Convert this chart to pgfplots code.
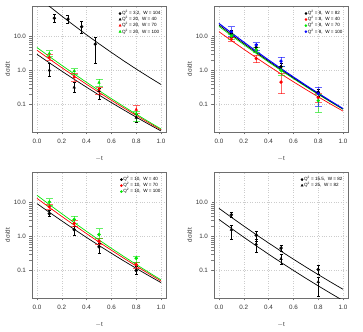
\documentclass[border=0pt]{standalone}
\usepackage{pgfplots}
\pgfplotsset{compat=1.18}
\usepackage{fontspec}
\setmainfont{Liberation Sans}
\definecolor{rred}{RGB}{255,0,0}
\definecolor{rgreen}{RGB}{0,230,0}
\definecolor{rblue}{RGB}{0,0,255}
\definecolor{framegray}{RGB}{110,110,110}
\pgfplotsset{
  every axis/.append style={
    scale only axis, width=134bp, height=126bp,
    xmin=-0.04, xmax=1.04, ymin=0.0155, ymax=80,
    xtick={0,0.2,0.4,0.6,0.8,1.0},
    xticklabels={0.0,0.2,0.4,0.6,0.8,1.0},
    ytick={0.1,1,10}, yticklabels={0.1,1.0,10.0},
    tick align=outside, tick pos=left, major tick length=2.5bp,
    axis line style={framegray, line width=0.6bp},
    major tick style={framegray, line width=0.5bp},
    grid=major, major grid style={gray!40, dotted, line width=0.4bp},
    tick label style={font=\fontsize{6.3}{6.3}\selectfont, text=black!80},
    xticklabel style={yshift=-1bp},
    xlabel style={font=\fontsize{6.3}{6.3}\selectfont, text=black!80, yshift=-6bp},
    ylabel style={font=\fontsize{6.3}{6.3}\selectfont, text=black!80, yshift=-3bp},
    xlabel={$-$t}, ylabel={dσ/dt},
    legend style={at={(0.97,0.975)}, anchor=north east, draw=none, fill=none,
      font=\fontsize{4.6}{4.8}\selectfont, row sep=-1.3bp, inner sep=0.5bp,
      nodes={inner sep=0.8bp}},
    legend cell align=left,
  },
}
\pgfplotsset{
  mycurve/.style={line width=0.7bp, no marks},
  mypt/.style={only marks, mark size=1.5bp,
    error bars/y dir=both, error bars/y explicit,
    error bars/error mark=-,
    error bars/error bar style={line width=0.5bp},
    error bars/error mark options={rotate=90, mark size=1.5bp, line width=0.5bp}},
  mycpt/.style={only marks, mark size=1.5bp,
    error bars/y dir=both, error bars/y explicit,
    error bars/error mark=-,
    error bars/error bar style={line width=0.6bp, opacity=0.6},
    error bars/error mark options={rotate=90, mark size=3.5bp, line width=0.6bp, opacity=0.6}},
}
\begin{document}
\begin{tikzpicture}
\useasboundingbox (0,0) rectangle (363bp,332bp);
% ---------------- panel 1 ----------------
\begin{axis}[ymode=log, anchor=south west, at={(32bp,200bp)}]
\addlegendimage{only marks, mark=*, mark size=1.1bp, black}
\addlegendentry{Q\textsuperscript{2} = 3.2,\ \ W = 104}
\addlegendimage{only marks, mark=triangle*, mark size=1.3bp, black}
\addlegendentry{Q\textsuperscript{2} = 20,\ \ W = 40}
\addlegendimage{only marks, mark=triangle*, mark size=1.3bp, rred}
\addlegendentry{Q\textsuperscript{2} = 20,\ \ W = 70}
\addlegendimage{only marks, mark=triangle*, mark size=1.3bp, rgreen}
\addlegendentry{Q\textsuperscript{2} = 20,\ \ W = 100}
\addplot[mycurve, black, forget plot] table {
t v
0.0 155
0.1 78.3
0.2 40.4
0.3 21.2
0.4 11.3
0.5 6.17
0.6 3.42
0.7 1.93
0.8 1.11
0.9 0.652
1.0 0.389
};
\addplot[mycurve, black, forget plot] table {
t v
0.0 3.02
0.1 1.693
0.2 0.962
0.3 0.5535
0.4 0.3227
0.5 0.1905
0.6 0.1140
0.7 0.0691
0.8 0.0424
0.9 0.02635
1.0 0.0166
};
\addplot[mycurve, rred, forget plot] table {
t v
0.0 3.98
0.1 2.190
0.2 1.219
0.3 0.6884
0.4 0.3934
0.5 0.2278
0.6 0.1336
0.7 0.0794
0.8 0.0478
0.9 0.0291
1.0 0.0180
};
\addplot[mycurve, rgreen, forget plot] table {
t v
0.0 4.79
0.1 2.599
0.2 1.429
0.3 0.7964
0.4 0.4495
0.5 0.2570
0.6 0.1489
0.7 0.0873
0.8 0.0519
0.9 0.0313
1.0 0.0191
};
\addplot[mypt, black, mark=*, forget plot] table[x=t,y=v,y error plus expr=\thisrow{hi}-\thisrow{v},y error minus expr=\thisrow{v}-\thisrow{lo}] {
t v lo hi
0.14 35 25.8 46
0.25 33 24.7 43.6
0.36 19.7 12.6 27.6
0.47 6.0 1.65 9.3
};
\addplot[mypt, black, mark=triangle*, forget plot] table[x=t,y=v,y error plus expr=\thisrow{hi}-\thisrow{v},y error minus expr=\thisrow{v}-\thisrow{lo}] {
t v lo hi
0.1 1.02 0.68 1.6
0.3 0.32 0.235 0.44
0.5 0.25 0.14 0.30
0.8 0.041 0.030 0.050
};
\addplot[mycpt, rred, mark=triangle*, forget plot] table[x=t,y=v,y error plus expr=\thisrow{hi}-\thisrow{v},y error minus expr=\thisrow{v}-\thisrow{lo}] {
t v lo hi
0.1 2.45 2.0 3.0
0.3 0.65 0.5 0.85
0.5 0.28 0.2 0.33
0.8 0.071 0.055 0.092
};
\addplot[mycpt, rgreen, mark=triangle*, forget plot] table[x=t,y=v,y error plus expr=\thisrow{hi}-\thisrow{v},y error minus expr=\thisrow{v}-\thisrow{lo}] {
t v lo hi
0.1 3.2 2.6 3.9
0.3 0.97 0.8 1.15
0.5 0.44 0.35 0.55
0.8 0.054 0.033 0.065
};
\end{axis}
% ---------------- panel 2 ----------------
\begin{axis}[ymode=log, anchor=south west, at={(214bp,200bp)}]
\addlegendimage{only marks, mark=*, mark size=1.1bp, black}
\addlegendentry{Q\textsuperscript{2} = 8,\ \ W = 82}
\addlegendimage{only marks, mark=*, mark size=1.1bp, rred}
\addlegendentry{Q\textsuperscript{2} = 8,\ \ W = 40}
\addlegendimage{only marks, mark=*, mark size=1.1bp, rgreen}
\addlegendentry{Q\textsuperscript{2} = 8,\ \ W = 70}
\addlegendimage{only marks, mark=*, mark size=1.1bp, rblue}
\addlegendentry{Q\textsuperscript{2} = 8,\ \ W = 100}
\addplot[mycurve, rred, forget plot] table {
t v
0.0 14.0
0.1 7.674
0.2 4.266
0.3 2.404
0.4 1.374
0.5 0.7962
0.6 0.4677
0.7 0.2786
0.8 0.1683
0.9 0.1030
1.0 0.0640
};
\addplot[mycurve, rgreen, forget plot] table {
t v
0.0 20.0
0.1 10.71
0.2 5.81
0.3 3.198
0.4 1.784
0.5 1.009
0.6 0.5787
0.7 0.3366
0.8 0.1985
0.9 0.1187
1.0 0.0719
};
\addplot[mycurve, black, forget plot] table {
t v
0.0 22.0
0.1 11.69
0.2 6.30
0.3 3.444
0.4 1.909
0.5 1.073
0.6 0.6110
0.7 0.3531
0.8 0.2068
0.9 0.1229
1.0 0.0740
};
\addplot[mycurve, rblue, line width=1bp, forget plot] table {
t v
0.0 24.5
0.1 12.94
0.2 6.92
0.3 3.75
0.4 2.06
0.5 1.148
0.6 0.6486
0.7 0.3715
0.8 0.2158
0.9 0.1271
1.0 0.0759
};
\addplot[mypt, black, mark=*, forget plot] table[x=t,y=v,y error plus expr=\thisrow{hi}-\thisrow{v},y error minus expr=\thisrow{v}-\thisrow{lo}] {
t v lo hi
0.1 12.5 9.5 15
0.3 4.8 4.0 5.8
0.5 1.3 1.0 1.6
0.8 0.23 0.17 0.28
};
\addplot[mycpt, rred, mark=*, forget plot] table[x=t,y=v,y error plus expr=\thisrow{hi}-\thisrow{v},y error minus expr=\thisrow{v}-\thisrow{lo}] {
t v lo hi
0.1 8.4 7.2 9.3
0.3 2.25 1.7 2.9
0.5 0.46 0.21 0.85
0.8 0.16 0.12 0.22
};
\addplot[mycpt, rgreen, mark=*, forget plot] table[x=t,y=v,y error plus expr=\thisrow{hi}-\thisrow{v},y error minus expr=\thisrow{v}-\thisrow{lo}] {
t v lo hi
0.1 10.5 8.5 12
0.3 4.06 3.4 4.8
0.5 1.02 0.72 1.3
0.8 0.13 0.06 0.2
};
\addplot[mycpt, rblue, mark=*, forget plot] table[x=t,y=v,y error plus expr=\thisrow{hi}-\thisrow{v},y error minus expr=\thisrow{v}-\thisrow{lo}] {
t v lo hi
0.1 14.0 10.0 19.7
0.3 5.7 4.06 6.7
0.5 1.9 1.37 2.45
0.8 0.21 0.089 0.32
};
\end{axis}
% ---------------- panel 3 ----------------
\begin{axis}[ymode=log, anchor=south west, at={(32bp,34bp)}]
\addlegendimage{only marks, mark=*, mark size=1.1bp, black}
\addlegendentry{Q\textsuperscript{2} = 10,\ \ W = 40}
\addlegendimage{only marks, mark=*, mark size=1.1bp, rred}
\addlegendentry{Q\textsuperscript{2} = 10,\ \ W = 70}
\addlegendimage{only marks, mark=*, mark size=1.1bp, rgreen}
\addlegendentry{Q\textsuperscript{2} = 10,\ \ W = 100}
\addplot[mycurve, black, forget plot] table {
t v
0.0 9.40
0.1 5.186
0.2 2.899
0.3 1.641
0.4 0.9415
0.5 0.5470
0.6 0.3220
0.7 0.1919
0.8 0.1159
0.9 0.0709
1.0 0.0440
};
\addplot[mycurve, rred, forget plot] table {
t v
0.0 13.4
0.1 7.213
0.2 3.934
0.3 2.174
0.4 1.216
0.5 0.6895
0.6 0.3960
0.7 0.2303
0.8 0.1357
0.9 0.0810
1.0 0.0490
};
\addplot[mycurve, rgreen, forget plot] table {
t v
0.0 16.5
0.1 8.770
0.2 4.722
0.3 2.575
0.4 1.422
0.5 0.7960
0.6 0.4512
0.7 0.2592
0.8 0.1507
0.9 0.0888
1.0 0.0530
};
\addplot[mypt, black, mark=*, forget plot] table[x=t,y=v,y error plus expr=\thisrow{hi}-\thisrow{v},y error minus expr=\thisrow{v}-\thisrow{lo}] {
t v lo hi
0.1 4.75 3.9 6.0
0.3 1.6 1.1 2.0
0.5 0.5 0.33 0.65
0.8 0.10 0.08 0.13
};
\addplot[mycpt, rred, mark=*, forget plot] table[x=t,y=v,y error plus expr=\thisrow{hi}-\thisrow{v},y error minus expr=\thisrow{v}-\thisrow{lo}] {
t v lo hi
0.1 7.6 6.5 9.0
0.3 2.45 2.0 3.0
0.5 0.73 0.6 0.9
0.8 0.15 0.12 0.18
};
\addplot[mycpt, rgreen, mark=*, forget plot] table[x=t,y=v,y error plus expr=\thisrow{hi}-\thisrow{v},y error minus expr=\thisrow{v}-\thisrow{lo}] {
t v lo hi
0.1 10.5 8.5 13
0.3 3.2 2.5 4.0
0.5 1.15 0.9 1.7
0.8 0.23 0.18 0.27
};
\end{axis}
% ---------------- panel 4 ----------------
\begin{axis}[ymode=log, anchor=south west, at={(214bp,34bp)}]
\addlegendimage{only marks, mark=*, mark size=1.1bp, black}
\addlegendentry{Q\textsuperscript{2} = 15.5,\ \ W = 82}
\addlegendimage{only marks, mark=triangle*, mark size=1.3bp, black}
\addlegendentry{Q\textsuperscript{2} = 25,\ \ W = 82}
\addplot[mycurve, black, forget plot] table {
t v
0.0 6.80
0.1 3.704
0.2 2.045
0.3 1.143
0.4 0.6475
0.5 0.3713
0.6 0.2158
0.7 0.1270
0.8 0.0757
0.9 0.0457
1.0 0.0280
};
\addplot[mycurve, black, forget plot] table {
t v
0.0 3.20
0.1 1.741
0.2 0.9594
0.3 0.5356
0.4 0.3030
0.5 0.1736
0.6 0.1007
0.7 0.0592
0.8 0.0353
0.9 0.0213
1.0 0.0130
};
\addplot[mypt, black, mark=*, forget plot] table[x=t,y=v,y error plus expr=\thisrow{hi}-\thisrow{v},y error minus expr=\thisrow{v}-\thisrow{lo}] {
t v lo hi
0.1 4.4 3.7 5.2
0.3 1.1 0.75 1.4
0.5 0.46 0.38 0.55
0.8 0.107 0.08 0.14
};
\addplot[mypt, black, mark=triangle*, forget plot] table[x=t,y=v,y error plus expr=\thisrow{hi}-\thisrow{v},y error minus expr=\thisrow{v}-\thisrow{lo}] {
t v lo hi
0.1 1.6 0.85 2.2
0.3 0.6 0.35 0.85
0.5 0.22 0.15 0.30
0.8 0.046 0.017 0.065
};
\end{axis}
\end{tikzpicture}
\end{document}
